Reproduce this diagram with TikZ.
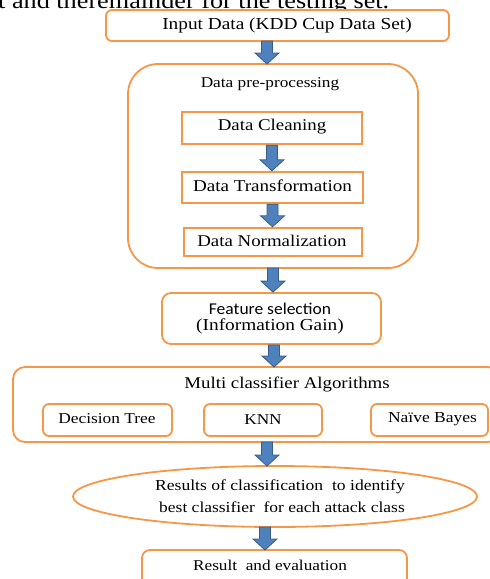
\documentclass[tikz,border=0pt]{standalone}
\usepackage{fontspec}
\setmainfont[FakeStretch=1.15]{Liberation Serif}
\newfontfamily\labelsans[FakeStretch=1.06]{Carlito}
\usetikzlibrary{calc,shapes.geometric}

\definecolor{boxorange}{HTML}{F79646}
\definecolor{arrowfill}{HTML}{4F81BD}
\definecolor{arrowedge}{HTML}{385D8A}

\newcommand\fs[1]{\fontsize{#1}{#1}\selectfont}

\tikzset{
  x=1pt, y=1pt,
  roundbox/.style={draw=boxorange, line width=1.8pt, rounded corners=6pt, fill=white},
  stepbox/.style={draw=boxorange, line width=2.4pt, fill=white},
  bigframe/.style={draw=boxorange, line width=1.8pt, rounded corners=30pt},
  txt/.style={inner sep=0pt},
  % vertical block arrow from the start point down to the target point
  blockarr/.style={fill=arrowfill, draw=arrowedge, line width=0.8pt,
    to path={let \p1=(\tikztostart), \p2=(\tikztotarget) in
      (\x1-5.5pt,\y1) -- (\x1+5.5pt,\y1) -- (\x1+5.5pt,\y2+11pt) -- (\x1+12pt,\y2+11pt)
      -- (\x1,\y2) -- (\x1-12pt,\y2+11pt) -- (\x1-5.5pt,\y2+11pt) -- cycle}},
}

\begin{document}
\begin{tikzpicture}
\useasboundingbox (0,0) rectangle (490,-579);

% line of running text above the figure
\node[anchor=base west, inner sep=0pt, font=\fs{22.8}] (runtext) at (-2,-8.5) {t and theremainder for the testing set.};

% input
\draw[roundbox] (106,-10) rectangle (449,-41);
\node[txt, font=\fs{16.8}] (intext) at (287,-25.5) {Input Data (KDD Cup Data Set)};
\coordinate (inS) at (267,-41);

% pre-processing frame
\draw[bigframe] (128,-64) rectangle (418,-268);
\coordinate (preN) at (267,-64);
\coordinate (preS) at (273,-268);
\node[txt, font=\fs{15}] (pretitle) at (270,-84) {Data pre-processing};

\node[stepbox, minimum width=180pt, minimum height=32pt, inner sep=0pt] (clean) at (272,-128) {};
\node[txt, font=\fs{16.4}] (cleantext) at (272,-127) {Data Cleaning};
\node[stepbox, minimum width=181pt, minimum height=31pt, inner sep=0pt] (trans) at (272.5,-187.5) {};
\node[txt, font=\fs{16.6}] (transtext) at (272.5,-186) {Data Transformation};
\node[stepbox, minimum width=178pt, minimum height=28pt, inner sep=0pt] (norm) at (273,-242) {};
\node[txt, font=\fs{16.4}] (normtext) at (272,-241) {Data Normalization};

% feature selection
\node[roundbox, minimum width=219pt, minimum height=51pt, inner sep=0pt, rounded corners=9pt] (feat) at (271.5,-318.5) {};
\node[txt, align=center, font=\fs{16.8}] (feattext) at (270,-318.5)
  {{\labelsans\fontsize{16.5}{17.5}\selectfont Feature selection}\\[-0.5pt](Information Gain)};

% classifiers
\draw[roundbox, rounded corners=12pt] (13,-367) rectangle (500,-442);
\coordinate (multiN) at (274,-367);
\coordinate (multiS) at (267,-442);
\node[txt, font=\fs{16.4}] (multitext) at (287,-384) {Multi classifier Algorithms};
\node[roundbox, minimum width=129pt, minimum height=32pt, inner sep=0pt] (dt) at (107.5,-420) {};
\node[txt, font=\fs{15.1}] (dttext) at (107,-419) {Decision Tree};
\node[roundbox, minimum width=118pt, minimum height=32pt, inner sep=0pt] (knn) at (263,-420) {};
\node[txt, font=\fs{15}] (knntext) at (263,-420) {KNN};
\node[roundbox, minimum width=117pt, minimum height=32pt, inner sep=0pt] (nb) at (429.5,-420) {};
\node[txt, font=\fs{15.2}] (nbtext) at (432.5,-419) {Naïve Bayes};

% results ellipse
\node[ellipse, draw=boxorange, line width=1.8pt, minimum width=404pt, minimum height=61pt, inner sep=0pt] (res) at (275,-496.5) {};
\node[txt, font=\fs{15.3}] (res1) at (280,-487) {Results of classification\ \ to identify};
\node[txt, font=\fs{15.2}] (res2) at (282,-507) {best classifier\ \ for each attack class};
\coordinate (resN) at (267,-466);
\coordinate (resS) at (265,-527);

% final box
\draw[roundbox, rounded corners=8pt] (142,-550) rectangle (407,-600);
\coordinate (finN) at (265,-550);
\node[txt, font=\fs{15}] (fintext) at (270,-565) {Result\ \ and evaluation};

% block arrows
\draw[blockarr] (inS) to (preN);
\draw[blockarr] (clean.south) to (trans.north);
\draw[blockarr] (trans.south) to (norm.north);
\draw[blockarr] (preS) to (feat.north -| preS);
\draw[blockarr] (feat.south -| multiN) to (multiN);
\draw[blockarr] (multiS) to (resN);
\draw[blockarr] (resS) to (finN);
\end{tikzpicture}
\end{document}
